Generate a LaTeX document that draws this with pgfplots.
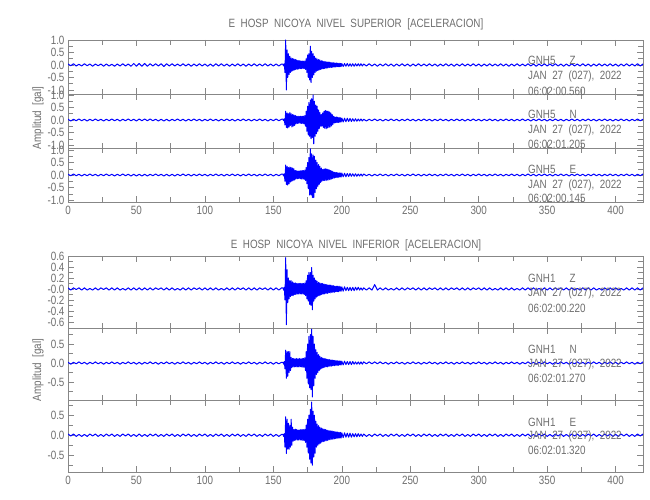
\documentclass[border=0pt]{standalone}
\usepackage{pgfplots}
\pgfplotsset{compat=1.18}
\usepackage{pgfplotstable}
\usepackage{fontspec}
\setmainfont{Liberation Sans}[FakeStretch=0.82]
\definecolor{txt}{RGB}{110,110,110}
\definecolor{axc}{RGB}{135,135,135}
\definecolor{trace}{RGB}{0,0,255}
\newcommand{\lf}{\fontsize{12}{12}\selectfont}

\pgfplotstableread{
t a b c d e f
0 0.04 0.03 0.03 0.02 0.02 0.03
2 -0.03 -0.04 -0.03 -0.02 -0.03 -0.02
4 0.05 0.03 0.04 0.02 0.02 0.03
6 -0.04 -0.03 -0.03 -0.01 -0.02 -0.03
8 0.03 0.04 0.03 0.02 0.03 0.02
10 -0.04 -0.03 -0.04 -0.02 -0.02 -0.03
12 0.05 0.03 0.03 0.02 0.02 0.02
14 -0.03 -0.04 -0.03 -0.02 -0.03 -0.03
16 0.04 0.03 0.04 0.01 0.02 0.03
18 -0.05 -0.03 -0.03 -0.02 -0.02 -0.02
20 0.04 0.04 0.03 0.02 0.03 0.03
22 -0.03 -0.03 -0.04 -0.02 -0.02 -0.03
24 0.04 0.03 0.03 0.02 0.02 0.02
26 -0.05 -0.04 -0.03 -0.01 -0.03 -0.03
28 0.04 0.03 0.04 0.02 0.02 0.03
30 -0.04 -0.03 -0.03 -0.02 -0.02 -0.02
32 0.03 0.04 0.03 0.02 0.03 0.03
34 -0.05 -0.03 -0.04 -0.02 -0.02 -0.03
36 0.04 0.03 0.03 0.02 0.02 0.02
38 -0.04 -0.04 -0.03 -0.02 -0.03 -0.03
40 0.05 0.03 0.04 0.01 0.02 0.03
42 -0.04 -0.03 -0.03 -0.02 -0.02 -0.02
44 0.04 0.04 0.03 0.02 0.03 0.03
46 -0.05 -0.03 -0.04 -0.02 -0.02 -0.03
48 0.06 0.03 0.03 0.02 0.02 0.02
50 -0.05 -0.04 -0.04 -0.02 -0.03 -0.03
52 0.06 0.04 0.03 0.02 0.02 0.03
54 -0.05 -0.03 -0.04 -0.02 -0.03 -0.03
56 0.06 0.04 0.03 0.02 0.02 0.02
58 -0.05 -0.03 -0.04 -0.02 -0.02 -0.03
60 0.05 0.04 0.03 0.02 0.03 0.03
62 -0.04 -0.03 -0.03 -0.02 -0.02 -0.02
64 0.05 0.03 0.04 0.02 0.02 0.03
66 -0.04 -0.04 -0.03 -0.01 -0.03 -0.03
68 0.05 0.03 0.03 0.02 0.02 0.02
70 -0.06 -0.04 -0.04 -0.02 -0.02 -0.03
72 0.05 0.03 0.03 0.02 0.03 0.03
74 -0.04 -0.04 -0.04 -0.02 -0.02 -0.02
76 0.05 0.03 0.03 0.02 0.02 0.03
78 -0.04 -0.03 -0.04 -0.02 -0.03 -0.03
80 0.04 0.04 0.03 0.01 0.02 0.02
82 -0.04 -0.03 -0.03 -0.02 -0.02 -0.03
84 0.05 0.03 0.04 0.02 0.03 0.03
86 -0.04 -0.04 -0.03 -0.02 -0.02 -0.02
88 0.04 0.03 0.03 0.02 0.02 0.03
90 -0.05 -0.03 -0.04 -0.02 -0.03 -0.03
92 0.04 0.04 0.03 0.02 0.02 0.02
94 -0.04 -0.03 -0.03 -0.01 -0.02 -0.03
96 0.05 0.03 0.04 0.02 0.03 0.03
98 -0.04 -0.04 -0.03 -0.02 -0.02 -0.02
100 0.04 0.03 0.03 0.02 0.02 0.03
102 -0.05 -0.03 -0.04 -0.02 -0.03 -0.03
104 0.04 0.04 0.03 0.02 0.02 0.02
106 -0.05 -0.03 -0.03 -0.02 -0.02 -0.03
108 0.05 0.03 0.04 0.02 0.03 0.03
110 -0.04 -0.04 -0.03 -0.02 -0.02 -0.02
112 0.05 0.03 0.03 0.01 0.02 0.03
114 -0.04 -0.03 -0.04 -0.02 -0.03 -0.03
116 0.04 0.04 0.03 0.02 0.02 0.02
118 -0.05 -0.03 -0.03 -0.02 -0.02 -0.03
120 0.04 0.03 0.04 0.02 0.03 0.03
122 -0.04 -0.04 -0.03 -0.02 -0.02 -0.02
124 0.05 0.03 0.03 0.02 0.02 0.03
126 -0.04 -0.03 -0.04 -0.01 -0.03 -0.03
128 0.04 0.04 0.03 0.02 0.02 0.02
130 -0.05 -0.03 -0.03 -0.02 -0.02 -0.03
132 0.04 0.03 0.04 0.02 0.03 0.03
134 -0.04 -0.04 -0.03 -0.02 -0.02 -0.02
136 0.05 0.03 0.03 0.02 0.02 0.03
138 -0.04 -0.03 -0.04 -0.02 -0.03 -0.03
140 0.04 0.04 0.03 0.02 0.02 0.02
142 -0.04 -0.03 -0.03 -0.01 -0.02 -0.03
144 0.05 0.03 0.04 0.02 0.03 0.03
146 -0.04 -0.04 -0.03 -0.02 -0.02 -0.02
148 0.04 0.03 0.03 0.02 0.02 0.03
150 -0.04 -0.03 -0.04 -0.02 -0.03 -0.03
152 0.04 0.04 0.03 0.02 0.02 0.02
154 -0.04 -0.03 -0.03 -0.02 -0.02 -0.03
156 0.04 0.03 0.04 0.02 0.02 0.02
157 0.03 0.03 0.03 0.02 0.02 0.02
157.5 -0.04 -0.03 -0.04 -0.02 -0.03 -0.03
158 0.05 0.05 0.05 0.03 0.04 0.04
158.5 -0.30 -0.20 -0.25 -0.20 -0.15 -0.30
159 1.00 0.35 0.40 0.57 0.34 0.46
159.5 -1.00 -0.30 -0.38 -0.65 -0.40 -0.46
160 0.60 0.28 0.35 0.35 0.30 0.40
160.5 -0.50 -0.32 -0.40 -0.25 -0.35 -0.35
161 0.45 0.25 0.30 0.20 0.30 0.30
161.5 -0.38 -0.28 -0.35 -0.18 -0.25 -0.35
162 0.35 0.30 0.32 0.15 0.30 0.25
162.5 -0.30 -0.22 -0.28 -0.14 -0.20 -0.30
163 0.28 0.25 0.30 0.15 0.15 0.40
163.5 -0.25 -0.28 -0.25 -0.12 -0.12 -0.25
164 0.26 0.22 0.28 0.13 0.12 0.20
164.5 -0.22 -0.25 -0.22 -0.12 -0.10 -0.15
165 0.24 0.20 0.25 0.11 0.12 0.14
165.5 -0.20 -0.22 -0.20 -0.10 -0.10 -0.13
166 0.22 0.18 0.18 0.11 0.11 0.15
166.5 -0.18 -0.16 -0.16 -0.10 -0.10 -0.12
167 0.20 0.15 0.17 0.10 0.12 0.14
167.5 -0.17 -0.14 -0.15 -0.09 -0.10 -0.12
168 0.18 0.15 0.16 0.10 0.11 0.13
168.5 -0.16 -0.13 -0.14 -0.09 -0.10 -0.12
169 0.17 0.14 0.16 0.10 0.12 0.13
169.5 -0.15 -0.13 -0.15 -0.09 -0.10 -0.12
170 0.16 0.15 0.17 0.10 0.11 0.14
170.5 -0.15 -0.14 -0.16 -0.09 -0.10 -0.12
171 0.16 0.15 0.18 0.10 0.12 0.14
171.5 -0.14 -0.14 -0.16 -0.09 -0.11 -0.13
172 0.15 0.15 0.18 0.10 0.12 0.14
172.5 -0.14 -0.16 -0.17 -0.10 -0.11 -0.13
173 0.16 0.18 0.20 0.11 0.14 0.15
173.5 -0.18 -0.25 -0.22 -0.12 -0.20 -0.18
174 0.25 0.35 0.30 0.15 0.30 0.25
174.5 -0.30 -0.45 -0.35 -0.18 -0.40 -0.30
175 0.40 0.55 0.50 0.25 0.50 0.40
175.5 -0.50 -0.60 -0.55 -0.22 -0.55 -0.45
176 0.45 0.70 0.70 0.30 0.70 0.50
176.5 -0.60 -0.65 -0.80 -0.28 -0.65 -0.60
177 0.75 0.80 1.05 0.30 0.75 0.65
177.5 -0.70 -0.75 -0.80 -0.30 -0.70 -0.70
178 0.55 0.85 0.85 0.39 0.89 0.83
178.5 -0.50 -0.70 -0.90 -0.38 -0.89 -0.75
179 0.45 1.00 0.80 0.25 0.70 0.60
179.5 -0.40 -0.95 -0.90 -0.22 -0.60 -0.55
180 0.35 0.75 0.75 0.20 0.50 0.50
180.5 -0.30 -0.65 -0.70 -0.18 -0.40 -0.45
181 0.28 0.60 0.60 0.16 0.35 0.35
181.5 -0.25 -0.55 -0.55 -0.15 -0.30 -0.30
182 0.24 0.55 0.50 0.14 0.28 0.28
182.5 -0.22 -0.45 -0.45 -0.13 -0.25 -0.25
183 0.22 0.40 0.42 0.12 0.22 0.24
183.5 -0.20 -0.35 -0.38 -0.12 -0.20 -0.22
184 0.20 0.30 0.35 0.11 0.18 0.20
184.5 -0.18 -0.25 -0.30 -0.11 -0.16 -0.20
185 0.17 0.22 0.28 0.10 0.15 0.18
185.5 -0.16 -0.25 -0.25 -0.10 -0.14 -0.17
186 0.16 0.28 0.22 0.10 0.13 0.16
186.5 -0.15 -0.30 -0.22 -0.09 -0.12 -0.16
187 0.14 0.35 0.24 0.09 0.12 0.15
187.5 -0.14 -0.33 -0.22 -0.09 -0.11 -0.15
188 0.13 0.38 0.25 0.08 0.11 0.14
188.5 -0.13 -0.35 -0.22 -0.08 -0.10 -0.14
189 0.12 0.36 0.24 0.08 0.10 0.13
189.5 -0.12 -0.32 -0.20 -0.08 -0.10 -0.13
190 0.12 0.35 0.22 0.07 0.09 0.12
190.5 -0.11 -0.30 -0.20 -0.07 -0.09 -0.12
191 0.11 0.32 0.20 0.07 0.09 0.11
191.5 -0.10 -0.28 -0.18 -0.07 -0.08 -0.11
192 0.10 0.28 0.18 0.07 0.08 0.11
192.5 -0.10 -0.24 -0.16 -0.06 -0.08 -0.10
193 0.09 0.22 0.15 0.06 0.08 0.10
193.5 -0.09 -0.18 -0.14 -0.06 -0.07 -0.10
194 0.09 0.15 0.12 0.06 0.07 0.09
194.5 -0.08 -0.12 -0.12 -0.06 -0.07 -0.09
195 0.08 0.12 0.11 0.05 0.07 0.09
195.5 -0.08 -0.11 -0.10 -0.05 -0.06 -0.08
196 0.08 0.12 0.10 0.05 0.06 0.08
196.5 -0.07 -0.10 -0.10 -0.05 -0.06 -0.08
197 0.07 0.11 0.09 0.05 0.06 0.08
197.5 -0.07 -0.10 -0.09 -0.05 -0.06 -0.07
198 0.07 0.10 0.09 0.05 0.06 0.07
198.5 -0.07 -0.09 -0.08 -0.04 -0.05 -0.07
199 0.06 0.09 0.08 0.04 0.05 0.07
199.5 -0.06 -0.08 -0.08 -0.04 -0.05 -0.07
200 0.06 0.08 0.08 0.04 0.05 0.06
201 -0.06 -0.08 -0.07 -0.04 -0.05 -0.06
202 0.06 0.07 0.07 0.04 0.05 0.06
203 -0.05 -0.07 -0.07 -0.03 -0.04 -0.05
204 0.06 0.07 0.06 0.03 0.04 0.05
205 -0.05 -0.06 -0.06 -0.03 -0.04 -0.05
206 0.05 0.06 0.06 0.03 0.04 0.05
207 -0.05 -0.06 -0.05 -0.03 -0.04 -0.05
208 0.05 0.05 0.05 0.03 0.04 0.04
209 -0.05 -0.05 -0.05 -0.03 -0.03 -0.04
210 0.05 0.05 0.05 0.03 0.03 0.04
211 -0.04 -0.05 -0.05 -0.02 -0.03 -0.04
212 0.05 0.04 0.04 0.03 0.03 0.04
213 -0.04 -0.04 -0.04 -0.02 -0.03 -0.03
214 0.05 0.04 0.04 0.02 0.03 0.03
215 -0.04 -0.04 -0.04 -0.02 -0.03 -0.03
216 0.04 0.03 0.04 0.02 0.03 0.03
218 -0.04 -0.04 -0.03 -0.02 -0.02 -0.03
220 0.05 0.03 0.03 0.02 0.03 0.02
222 -0.04 -0.03 -0.04 -0.02 -0.02 -0.03
224 0.04 0.04 0.03 0.08 0.03 0.03
226 -0.05 -0.03 -0.03 -0.02 -0.02 -0.02
228 0.04 0.03 0.04 0.02 0.03 0.03
230 -0.04 -0.04 -0.03 -0.02 -0.02 -0.03
232 0.05 0.03 0.03 0.02 0.02 0.02
234 -0.04 -0.03 -0.04 -0.02 -0.03 -0.03
236 0.04 0.04 0.03 0.01 0.02 0.03
238 -0.05 -0.03 -0.03 -0.02 -0.02 -0.02
240 0.04 0.03 0.04 0.02 0.03 0.03
242 -0.04 -0.04 -0.03 -0.02 -0.02 -0.03
244 0.05 0.03 0.03 0.02 0.02 0.02
246 -0.04 -0.03 -0.04 -0.02 -0.03 -0.03
248 0.04 0.04 0.03 0.02 0.02 0.03
250 -0.05 -0.03 -0.03 -0.01 -0.02 -0.02
252 0.04 0.03 0.04 0.02 0.03 0.03
254 -0.04 -0.04 -0.03 -0.02 -0.02 -0.03
256 0.05 0.03 0.03 0.02 0.02 0.02
258 -0.04 -0.03 -0.04 -0.02 -0.03 -0.03
260 0.04 0.04 0.03 0.02 0.02 0.03
262 -0.04 -0.03 -0.03 -0.02 -0.02 -0.02
264 0.05 0.03 0.04 0.02 0.03 0.03
266 -0.04 -0.04 -0.03 -0.01 -0.02 -0.03
268 0.04 0.03 0.03 0.02 0.02 0.02
270 -0.05 -0.03 -0.04 -0.02 -0.03 -0.03
272 0.04 0.04 0.03 0.02 0.02 0.03
274 -0.04 -0.03 -0.03 -0.02 -0.02 -0.02
276 0.05 0.03 0.04 0.02 0.03 0.03
278 -0.04 -0.04 -0.03 -0.02 -0.02 -0.03
280 0.04 0.03 0.03 0.02 0.02 0.02
282 -0.05 -0.03 -0.04 -0.01 -0.03 -0.03
284 0.04 0.04 0.03 0.02 0.02 0.03
286 -0.04 -0.03 -0.03 -0.02 -0.02 -0.02
288 0.05 0.03 0.04 0.02 0.03 0.03
290 -0.04 -0.04 -0.03 -0.02 -0.02 -0.03
292 0.04 0.03 0.03 0.02 0.02 0.02
294 -0.04 -0.03 -0.04 -0.02 -0.03 -0.03
296 0.05 0.04 0.03 0.02 0.02 0.03
298 -0.04 -0.03 -0.03 -0.01 -0.02 -0.02
300 0.04 0.03 0.04 0.02 0.03 0.03
302 -0.05 -0.04 -0.03 -0.02 -0.02 -0.03
304 0.04 0.03 0.03 0.02 0.02 0.02
306 -0.04 -0.03 -0.04 -0.02 -0.03 -0.03
308 0.05 0.04 0.03 0.02 0.02 0.03
310 -0.04 -0.03 -0.03 -0.02 -0.02 -0.02
312 0.04 0.03 0.04 0.01 0.03 0.03
314 -0.04 -0.04 -0.03 -0.02 -0.02 -0.03
316 0.05 0.03 0.03 0.02 0.02 0.02
318 -0.04 -0.03 -0.04 -0.02 -0.03 -0.03
320 0.04 0.04 0.03 0.02 0.02 0.03
322 -0.05 -0.03 -0.03 -0.02 -0.02 -0.02
324 0.04 0.03 0.04 0.02 0.03 0.03
326 -0.04 -0.04 -0.03 -0.02 -0.02 -0.03
328 0.05 0.03 0.03 0.01 0.02 0.02
330 -0.04 -0.03 -0.04 -0.02 -0.03 -0.03
332 0.04 0.04 0.03 0.02 0.02 0.03
334 -0.04 -0.03 -0.03 -0.02 -0.02 -0.02
336 0.05 0.03 0.04 0.02 0.03 0.03
338 -0.04 -0.04 -0.03 -0.02 -0.02 -0.03
340 0.04 0.03 0.03 0.02 0.02 0.02
342 -0.05 -0.03 -0.04 -0.02 -0.03 -0.03
344 0.04 0.04 0.03 0.01 0.02 0.03
346 -0.04 -0.03 -0.03 -0.02 -0.02 -0.02
348 0.05 0.03 0.04 0.02 0.03 0.03
350 -0.04 -0.04 -0.03 -0.02 -0.02 -0.03
352 0.04 0.03 0.03 0.02 0.02 0.02
354 -0.04 -0.03 -0.04 -0.02 -0.03 -0.03
356 0.05 0.04 0.03 0.02 0.02 0.03
358 -0.04 -0.03 -0.03 -0.01 -0.02 -0.02
360 0.04 0.03 0.04 0.02 0.03 0.03
362 -0.05 -0.04 -0.03 -0.02 -0.02 -0.03
364 0.04 0.03 0.03 0.02 0.02 0.02
366 -0.04 -0.03 -0.04 -0.02 -0.03 -0.03
368 0.05 0.04 0.03 0.02 0.02 0.03
370 -0.04 -0.03 -0.03 -0.02 -0.02 -0.02
372 0.04 0.03 0.04 0.01 0.03 0.03
374 -0.04 -0.04 -0.03 -0.02 -0.02 -0.03
376 0.05 0.03 0.03 0.02 0.02 0.02
378 -0.04 -0.03 -0.04 -0.02 -0.03 -0.03
380 0.04 0.04 0.03 0.02 0.02 0.03
382 -0.05 -0.03 -0.03 -0.02 -0.02 -0.02
384 0.04 0.03 0.04 0.02 0.03 0.03
386 -0.04 -0.04 -0.03 -0.02 -0.02 -0.03
388 0.05 0.03 0.03 0.01 0.02 0.02
390 -0.04 -0.03 -0.04 -0.02 -0.03 -0.03
392 0.04 0.04 0.03 0.02 0.02 0.03
394 -0.04 -0.03 -0.03 -0.02 -0.02 -0.02
396 0.05 0.03 0.04 0.02 0.03 0.03
398 -0.04 -0.04 -0.03 -0.02 -0.02 -0.03
400 0.04 0.03 0.03 0.02 0.02 0.02
402 -0.05 -0.03 -0.04 -0.02 -0.03 -0.03
404 0.04 0.04 0.03 0.01 0.02 0.03
406 -0.04 -0.03 -0.03 -0.02 -0.02 -0.02
408 0.05 0.03 0.04 0.02 0.03 0.03
410 -0.04 -0.04 -0.03 -0.02 -0.02 -0.03
412 0.04 0.03 0.03 0.02 0.02 0.02
414 -0.04 -0.03 -0.04 -0.02 -0.03 -0.03
416 0.05 0.04 0.03 0.02 0.02 0.03
418 -0.04 -0.03 -0.03 -0.02 -0.02 -0.02
420 0.04 0.03 0.04 0.02 0.03 0.03
}\seis

\pgfplotsset{
  seis/.style={
    scale only axis, width=575pt, xmin=0, xmax=420,
    axis line style={draw=axc, line width=0.6pt},
    tick style={draw=axc, line width=0.5pt},
    tick align=inside,
    xtick={0,50,...,400}, minor xtick={25,75,...,375},
    major tick length=6pt, minor tick length=5pt,
    xtick pos=both, ytick pos=both,
    ticklabel style={text=txt, font=\lf},
    /pgf/number format/assume math mode=true,
    yticklabel style={/pgf/number format/.cd, fixed, fixed zerofill, precision=1},
    xticklabel style={yshift=-1pt},
    anchor=south west,
  },
  hi/.style={seis, height=54pt, ytick={-1,-0.5,0,0.5,1}, minor ytick={-0.75,-0.25,0.25,0.75}},
  noxl/.style={xticklabels={}},
}
\newcommand{\tr}[1]{\addplot[trace, line width=1.0pt, line join=round] table[x=t,y=#1]{\seis};}

\begin{document}
\begin{tikzpicture}
\path[use as bounding box] (0pt,0pt) rectangle (650pt,-500pt);

% ---------- upper block ----------
\begin{axis}[hi, noxl, at={(68pt,-94pt)}, ymin=-1.16, ymax=1.0]
\tr{a}
\end{axis}
\begin{axis}[hi, noxl, at={(68pt,-148pt)}, ymin=-1.12, ymax=1.04]
\tr{b}
\end{axis}
\begin{axis}[hi, at={(68pt,-202pt)}, ymin=-1.08, ymax=1.08]
\tr{c}
\end{axis}

% ---------- lower block ----------
\begin{axis}[seis, noxl, height=72pt, at={(68pt,-328pt)}, ymin=-0.71, ymax=0.6,
  ytick={-0.6,-0.4,-0.2,0,0.2,0.4,0.6}, yticklabels={-0.6,-0.4,-0.2,-0.0,0.2,0.4,0.6},
  minor ytick={-0.5,-0.3,-0.1,0.1,0.3,0.5}]
\tr{d}
\end{axis}
\begin{axis}[seis, noxl, height=72pt, at={(68pt,-400pt)}, ymin=-0.97, ymax=0.92,
  ytick={-0.5,0,0.5}, minor ytick={-0.75,-0.25,0.25,0.75}]
\tr{e}
\end{axis}
\begin{axis}[seis, height=72pt, at={(68pt,-472pt)}, ymin=-0.92, ymax=0.88,
  ytick={-0.5,0,0.5}, minor ytick={-0.75,-0.25,0.25,0.75}]
\tr{f}
\end{axis}

% ---------- texts ----------
\begin{scope}[every node/.style={text=txt, font=\lf, inner sep=0pt}]
\node at (356pt,-24pt) {E\ \ HOSP\ \ NICOYA\ \ NIVEL\ \ SUPERIOR\ \ [ACELERACION]};
\node at (356pt,-245pt) {E\ \ HOSP\ \ NICOYA\ \ NIVEL\ \ INFERIOR\ \ [ACELERACION]};
\node[rotate=90] at (38pt,-118pt) {Amplitud\ \ [gal]};
\node[rotate=90] at (38pt,-370pt) {Amplitud\ \ [gal]};

\node[anchor=west] at (528pt,-60pt) {GNH5\hspace{14pt}Z};
\node[anchor=west] at (528pt,-76pt) {JAN\ \ 27\ \ (027),\ \ 2022};
\node[anchor=west] at (528pt,-91pt) {06:02:00.560};
\node[anchor=west] at (528pt,-114pt) {GNH5\hspace{14pt}N};
\node[anchor=west] at (528pt,-130pt) {JAN\ \ 27\ \ (027),\ \ 2022};
\node[anchor=west] at (528pt,-144pt) {06:02:01.205};
\node[anchor=west] at (528pt,-169pt) {GNH5\hspace{14pt}E};
\node[anchor=west] at (528pt,-185pt) {JAN\ \ 27\ \ (027),\ \ 2022};
\node[anchor=west] at (528pt,-198pt) {06:02:00.145};

\node[anchor=west] at (528pt,-278pt) {GNH1\hspace{14pt}Z};
\node[anchor=west] at (528pt,-293pt) {JAN\ \ 27\ \ (027),\ \ 2022};
\node[anchor=west] at (528pt,-308pt) {06:02:00.220};
\node[anchor=west] at (528pt,-349pt) {GNH1\hspace{14pt}N};
\node[anchor=west] at (528pt,-364pt) {JAN\ \ 27\ \ (027),\ \ 2022};
\node[anchor=west] at (528pt,-378pt) {06:02:01.270};
\node[anchor=west] at (528pt,-422pt) {GNH1\hspace{14pt}E};
\node[anchor=west] at (528pt,-436pt) {JAN\ \ 27\ \ (027),\ \ 2022};
\node[anchor=west] at (528pt,-450pt) {06:02:01.320};
\end{scope}
\end{tikzpicture}
\end{document}
